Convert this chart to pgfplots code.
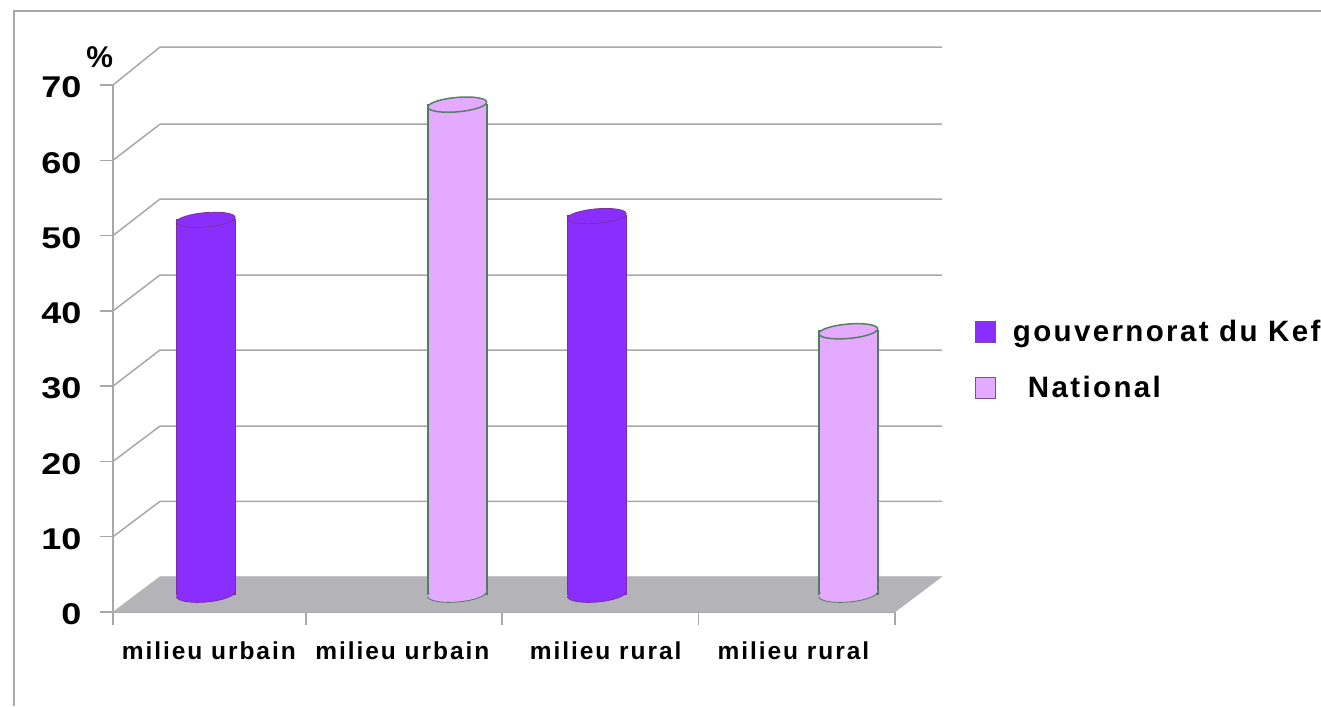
\documentclass[border=0pt]{standalone}
\usepackage{fontspec}
\setmainfont{Liberation Sans}
\newfontfamily\lsfont[LetterSpace=8]{Liberation Sans}
\usepackage{pgfplots}
\pgfplotsset{compat=1.18}
\definecolor{kef}{HTML}{8A2EFF}
\definecolor{kefedge}{HTML}{7D2E9C}
\definecolor{nat}{HTML}{E3AAFF}
\definecolor{natedge}{HTML}{4F7D5F}
\definecolor{floorc}{HTML}{B4B3B8}
\definecolor{gridc}{HTML}{A8A8A8}
\pgfdeclareplotmark{cyl}{%
  \pgftransformrotate{5}%
  \pgfpathellipse{\pgfpointorigin}{\pgfqpoint{29.5pt}{0pt}}{\pgfqpoint{0pt}{7.2pt}}%
  \pgfusepathqfillstroke}
\pgfdeclareplotmark{cylbase}{%
  \pgftransformrotate{5}%
  \pgfpathellipse{\pgfpointorigin}{\pgfqpoint{29.5pt}{0pt}}{\pgfqpoint{0pt}{8pt}}%
  \pgfusepathqfill
  \pgfpathmoveto{\pgfqpoint{-29.5pt}{0pt}}%
  \pgfpatharc{180}{360}{29.5pt and 8pt}%
  \pgfusepathqstroke}
\begin{document}
\begin{tikzpicture}[x=1pt,y=1pt]
\path[use as bounding box] (0,0) rectangle (1321,706);
\draw[gridc,line width=1.5pt] (14,0) -- (14,695) -- (1321,695);
\begin{axis}[
  at={(113pt,94pt)},anchor=south west,
  scale only axis,width=782pt,height=527pt,
  xmin=0,xmax=4,ymin=0,ymax=70,clip=false,
  axis lines=left,
  axis line style={gridc,line width=1.5pt,-},
  tick style={gridc,line width=1.4pt},
  tick align=outside,major tick length=13pt,
  xtick={0,0.987,1.99,2.995,4},xticklabels={},
  extra x ticks={0.49,1.48,2.52,3.48},
  extra x tick style={major tick length=0pt},
  extra x tick labels={milieu urbain,milieu urbain,\raisebox{2.5pt}{milieu rural},\raisebox{1pt}{milieu rural}},
  ytick={0,10,...,70},
  /pgf/number format/assume math mode=true,
  yticklabel style={font=\fontsize{30}{30}\selectfont\bfseries,xscale=1.2,transform shape,xshift=-12pt,yshift=-2.5pt,text=black},
  xticklabel style={font=\fontsize{24.5}{24.5}\selectfont\lsfont\bfseries,text=black,yshift=-26pt},
  ylabel={\%},
  y label style={at={(axis description cs:-0.017,1.053)},rotate=-90,anchor=center,font=\fontsize{30}{30}\selectfont\bfseries},
  legend style={at={(axis cs:4.41,38.97)},anchor=north west,draw=none,fill=none,
    font=\fontsize{29.5}{29.5}\selectfont\lsfont\bfseries,legend cell align=left,
    row sep=29pt,inner sep=0pt,outer sep=0pt,
    /tikz/every odd column/.append style={column sep=15pt}},
  legend image code/.code={\path[#1] (0pt,-10.5pt) rectangle (20pt,10.5pt);},
]
% back wall grid lines
\addplot[gridc,line width=1.5pt,forget plot] coordinates {(0,70)(0.2404,75.04)(4.24,75.04)};
\addplot[gridc,line width=1.5pt,forget plot] coordinates {(0,60)(0.2404,64.8)(4.24,64.8)};
\addplot[gridc,line width=1.5pt,forget plot] coordinates {(0,50)(0.2404,54.85)(4.24,54.85)};
\addplot[gridc,line width=1.5pt,forget plot] coordinates {(0,40)(0.2404,44.76)(4.24,44.76)};
\addplot[gridc,line width=1.5pt,forget plot] coordinates {(0,30)(0.2404,34.8)(4.24,34.8)};
\addplot[gridc,line width=1.5pt,forget plot] coordinates {(0,20)(0.2404,24.7)(4.24,24.7)};
\addplot[gridc,line width=1.5pt,forget plot] coordinates {(0,10)(0.2404,14.7)(4.24,14.7)};
% floor
\addplot[fill=floorc,draw=floorc,forget plot] coordinates {(0,0)(0.2404,4.7)(4.24,4.7)(4,0)} -- cycle;
% Kef bars
\addplot[ybar,bar width=59pt,bar shift=-5pt,yshift=18pt,fill=kef,draw=kefedge,line width=1.2pt,forget plot]
  coordinates {(0.5,49.7)(2.5,50.2)};
\addplot[only marks,mark=cylbase,xshift=-5pt,yshift=18pt,mark options={fill=kef,draw=kefedge,line width=0.8pt},forget plot]
  coordinates {(0.5,0)(2.5,0)};
\addplot[only marks,mark=cyl,xshift=-5pt,yshift=18pt,mark options={fill=kef,draw=kefedge,line width=0.8pt},forget plot]
  coordinates {(0.5,49.7)(2.5,50.2)};
% National bars
\addplot[ybar,bar width=59pt,bar shift=51pt,yshift=18pt,fill=nat,draw=natedge,line width=1.7pt,forget plot]
  coordinates {(1.5,65)(3.5,34.9)};
\addplot[only marks,mark=cylbase,xshift=51pt,yshift=18pt,mark options={fill=nat,draw=natedge,line width=0.8pt},forget plot]
  coordinates {(1.5,0)(3.5,0)};
\addplot[only marks,mark=cyl,xshift=51pt,yshift=18pt,mark options={fill=nat,draw=natedge!80!gray,line width=1.5pt},forget plot]
  coordinates {(1.5,65)(3.5,34.9)};
\addlegendimage{fill=kef,draw=kefedge!70!gray,line width=0.8pt}
\addlegendentry{gouvernorat du Kef}
\addlegendimage{fill=nat,draw=kefedge!60!gray,line width=0.8pt}
\addlegendentry{\hspace*{15pt}National}
\end{axis}
\end{tikzpicture}
\end{document}
